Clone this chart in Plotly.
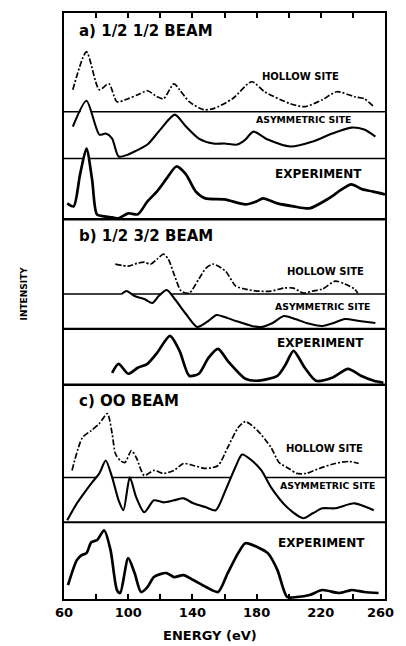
import plotly.graph_objects as go

# ---------------- data (energy in eV, intensity in arbitrary units) ----------------
# Panel a) 1/2 1/2 beam
a_hollow_E = [65.5, 74, 82, 88, 93, 100, 106, 112, 118, 122, 128.5, 132, 138, 147, 153, 165, 177, 185, 201, 210, 221, 230, 241, 247, 253]
a_hollow_I = [22, 60, 22, 28, 10, 13, 17, 21, 15, 13, 28, 22, 10, 2, 3, 13, 30, 20, 8, 5, 12, 20, 15, 13, 5]
a_asym_E = [65.5, 74, 82, 86, 90, 94, 100, 104, 112, 120, 129, 136, 144, 153, 160, 168, 173, 178, 187, 201, 215, 227, 239, 247, 254]
a_asym_I = [32, 58, 24, 25, 20, 2, 4, 7, 14, 29, 44, 32, 20, 15, 15, 14, 19, 27, 19, 12, 17, 25, 31, 29, 22]
a_exp_E = [62, 66, 70, 74, 77.5, 80.5, 85, 90, 94, 100, 106, 112, 118, 124, 130, 136, 142, 148, 160, 173, 180, 184, 193, 203, 213, 225, 233, 239, 246, 252, 260]
a_exp_I = [16, 13, 45, 71, 40, 5, 3, 2, 1, 6, 5, 18, 28, 41, 53, 45, 28, 21, 20, 15, 18, 21, 16, 13, 11, 21, 30, 35, 30, 28, 25]

# Panel b) 1/2 3/2 beam
b_hollow_E = [92, 100, 106, 110, 114, 118, 122, 125, 129, 133, 138, 144, 148.5, 153, 160.6, 167, 173, 180, 189, 197, 203, 209, 215, 221, 229, 235, 241, 243]
b_hollow_I = [30, 28, 31, 32, 30, 35, 40, 35, 18, 3, 1, 15, 26, 30, 23, 8, 5, 3, 3, 6, 6, 1, 3, 5, 13, 10, 5, 1]
b_asym_E = [96, 99, 104, 110, 115, 119, 124, 129, 136, 143, 150, 155, 160, 167, 177, 183, 190, 197, 204, 211, 221, 228, 235, 244, 254]
b_asym_I = [35, 38, 33, 30, 26, 33, 39, 30, 15, 2, 8, 14, 12, 8, 3, 2, 6, 13, 10, 6, 3, 6, 10, 8, 6]
b_exp_E = [90, 94, 100, 106, 112, 118, 126, 132, 138, 144, 150, 156, 162, 173, 180, 193, 198, 203, 210, 217, 227, 237, 245, 253, 259]
b_exp_I = [12, 21, 11, 17, 21, 32, 49, 34, 9, 11, 27, 36, 24, 6, 4, 9, 20, 34, 17, 4, 7, 16, 9, 4, 2]

# Panel c) 00 beam
c_hollow_E = [65, 71.5, 77, 82, 87, 90, 92, 95, 98, 102, 105, 110, 116, 122, 128.5, 134.5, 140.6, 148.5, 156, 162, 168.5, 173, 180.6, 189, 194, 200, 205, 211, 219, 229, 237.6, 243.6]
c_hollow_I = [7, 40, 47, 54, 64, 44, 24, 17, 15, 27, 20, 2, 7, 4, 7, 14, 12, 9, 12, 30, 50, 56, 47, 30, 15, 9, 4, 4, 9, 14, 16, 14]
c_asym_E = [62, 68, 71.5, 77.5, 82, 86, 90, 94, 97, 101, 105, 110, 116, 122, 128.5, 134.5, 140.6, 148.5, 154.5, 160.6, 166.7, 171, 177, 183, 189, 199, 209, 215, 221, 229, 241, 253]
c_asym_I = [2, 19, 27, 40, 49, 62, 45, 22, 12, 45, 25, 10, 22, 20, 22, 24, 19, 15, 12, 32, 55, 68, 62, 52, 35, 15, 4, 9, 14, 14, 19, 12]
c_exp_E = [62.5, 68, 71, 74, 77, 80.6, 85, 89, 93, 95, 100, 104, 108, 112, 116, 120, 124, 128.5, 134.5, 140.6, 148.5, 156, 162, 168.5, 173, 180.6, 187, 193, 199, 205, 213, 221, 231.5, 239, 247, 256]
c_exp_I = [14, 39, 44, 46, 57, 59, 69, 49, 9, 6, 41, 26, 7, 12, 22, 25, 26, 22, 24, 19, 12, 7, 26, 46, 56, 52, 46, 29, 2, 2, 4, 9, 6, 9, 7, 6]

tick_vals = [60, 80, 100, 120, 140, 160, 180, 200, 220, 240, 260]
tick_text = ["60", "", "100", "", "140", "", "180", "", "220", "", "260\u00a0\u00a0"]

panel_titles = ["a) 1/2 1/2 BEAM", "b) 1/2 3/2 BEAM", "c) OO BEAM"]
curve_names = ["HOLLOW SITE", "ASYMMETRIC SITE", "EXPERIMENT"]

# ---------------- layout geometry (window pixels) ----------------
WIN_W, WIN_H = 406, 646
OFF = 8                       # default page body margin
PL, PR, PT, PB = 64, 396, 11, 599   # plot area edges in window pixels
W, H = WIN_W - OFF, WIN_H - OFF
ML, MR, MT, MB = PL - OFF, WIN_W - PR, PT - OFF, WIN_H - PB
PW, PH = PR - PL, PB - PT
XMIN, XMAX = 60, 260


def ex(px):   # window pixel x -> energy
    return XMIN + (px - PL) * (XMAX - XMIN) / PW


def wy(py):   # window pixel y -> y axis value
    return PB - py


# baselines (pixel rows) for hollow, asymmetric, experiment in each panel
baselines = [(110, 157, 218), (293, 328, 384), (477, 522, 599)]
base_widths = [(1.5, 1.5), (1.5, 2.2), (1.5, 2.2)]
dividers = [218, 384]

panels = [
    [(a_hollow_E, a_hollow_I), (a_asym_E, a_asym_I), (a_exp_E, a_exp_I)],
    [(b_hollow_E, b_hollow_I), (b_asym_E, b_asym_I), (b_exp_E, b_exp_I)],
    [(c_hollow_E, c_hollow_I), (c_asym_E, c_asym_I), (c_exp_E, c_exp_I)],
]

styles = [dict(width=1.7, dash="6px,2px,2px,2px"), dict(width=2.1), dict(width=2.7)]

fig = go.Figure()
for p, curves in enumerate(panels):
    for k, (E, I) in enumerate(curves):
        base = wy(baselines[p][k])
        Y = [base + v for v in I]
        # white mask under each curve (hides the baseline above it where it overlaps)
        fig.add_trace(go.Scatter(
            x=list(E) + [E[-1], E[0]], y=Y + [base, base], mode="lines",
            fill="toself", fillcolor="white", line=dict(width=0, color="white"),
            hoverinfo="skip", showlegend=False))
        fig.add_trace(go.Scatter(
            x=E, y=Y, mode="lines", line=dict(color="black", shape="spline", smoothing=0.7, **styles[k]),
            showlegend=False, hoverinfo="skip"))
        if k < 2:
            fig.add_trace(go.Scatter(
                x=[XMIN, XMAX], y=[base, base], mode="lines",
                line=dict(color="black", width=base_widths[p][k]),
                showlegend=False, hoverinfo="skip"))

for d in dividers:
    fig.add_shape(type="line", xref="paper", x0=0, x1=1, yref="y", y0=wy(d), y1=wy(d),
                  line=dict(color="black", width=2.4), layer="above")

FONT = "DejaVu Sans"

# panel titles
title_pos = [(77, 29), (77, 235), (77, 400)]
for (px, py), t in zip(title_pos, panel_titles):
    fig.add_annotation(x=ex(px), y=wy(py), text="<b>%s</b>" % t, showarrow=False,
                       xanchor="left", yanchor="middle",
                       font=dict(family=FONT, size=15, color="black"))

# curve labels
label_pos = [
    [(267, 75), (260, 118), (280, 173)],
    [(293, 270), (280, 305), (282, 342)],
    [(292, 448), (285, 485), (283, 543)],
]
label_sizes = [10, 9.3, 12]
for p in range(3):
    for k in range(3):
        px, py = label_pos[p][k]
        fig.add_annotation(x=ex(px), y=wy(py), text="<b>%s</b>" % curve_names[k], showarrow=False,
                           xanchor="left", yanchor="middle",
                           font=dict(family=FONT, size=label_sizes[k], color="black"))

# axis titles
fig.add_annotation(xref="paper", yref="paper", x=(215 - PL) / PW, y=(PB - 636) / PH,
                   text="<b>ENERGY (eV)</b>", showarrow=False, xanchor="center", yanchor="middle",
                   font=dict(family=FONT, size=13, color="black"))
fig.add_annotation(xref="paper", yref="paper", x=(23 - PL) / PW, y=(PB - 292) / PH,
                   text="<b>INTENSITY</b>", showarrow=False, textangle=-90,
                   xanchor="center", yanchor="middle",
                   font=dict(family=FONT, size=9, color="black"))

fig.update_xaxes(range=[XMIN, XMAX], tickvals=tick_vals, ticktext=tick_text,
                 ticks="inside", ticklen=5, tickwidth=1.5, tickcolor="black",
                 showline=True, linecolor="black", linewidth=2.4, mirror="ticks",
                 showgrid=False, zeroline=False, ticklabeloverflow="allow",
                 tickfont=dict(family=FONT, size=13, color="black", weight="bold"))
fig.update_yaxes(range=[0, PH], showticklabels=False, ticks="",
                 showline=True, linecolor="black", linewidth=2.4, mirror=True,
                 showgrid=False, zeroline=False)

fig.update_layout(width=W, height=H, margin=dict(l=ML, r=MR, t=MT, b=MB),
                  paper_bgcolor="white", plot_bgcolor="white", showlegend=False)

fig.write_html("out.html")
